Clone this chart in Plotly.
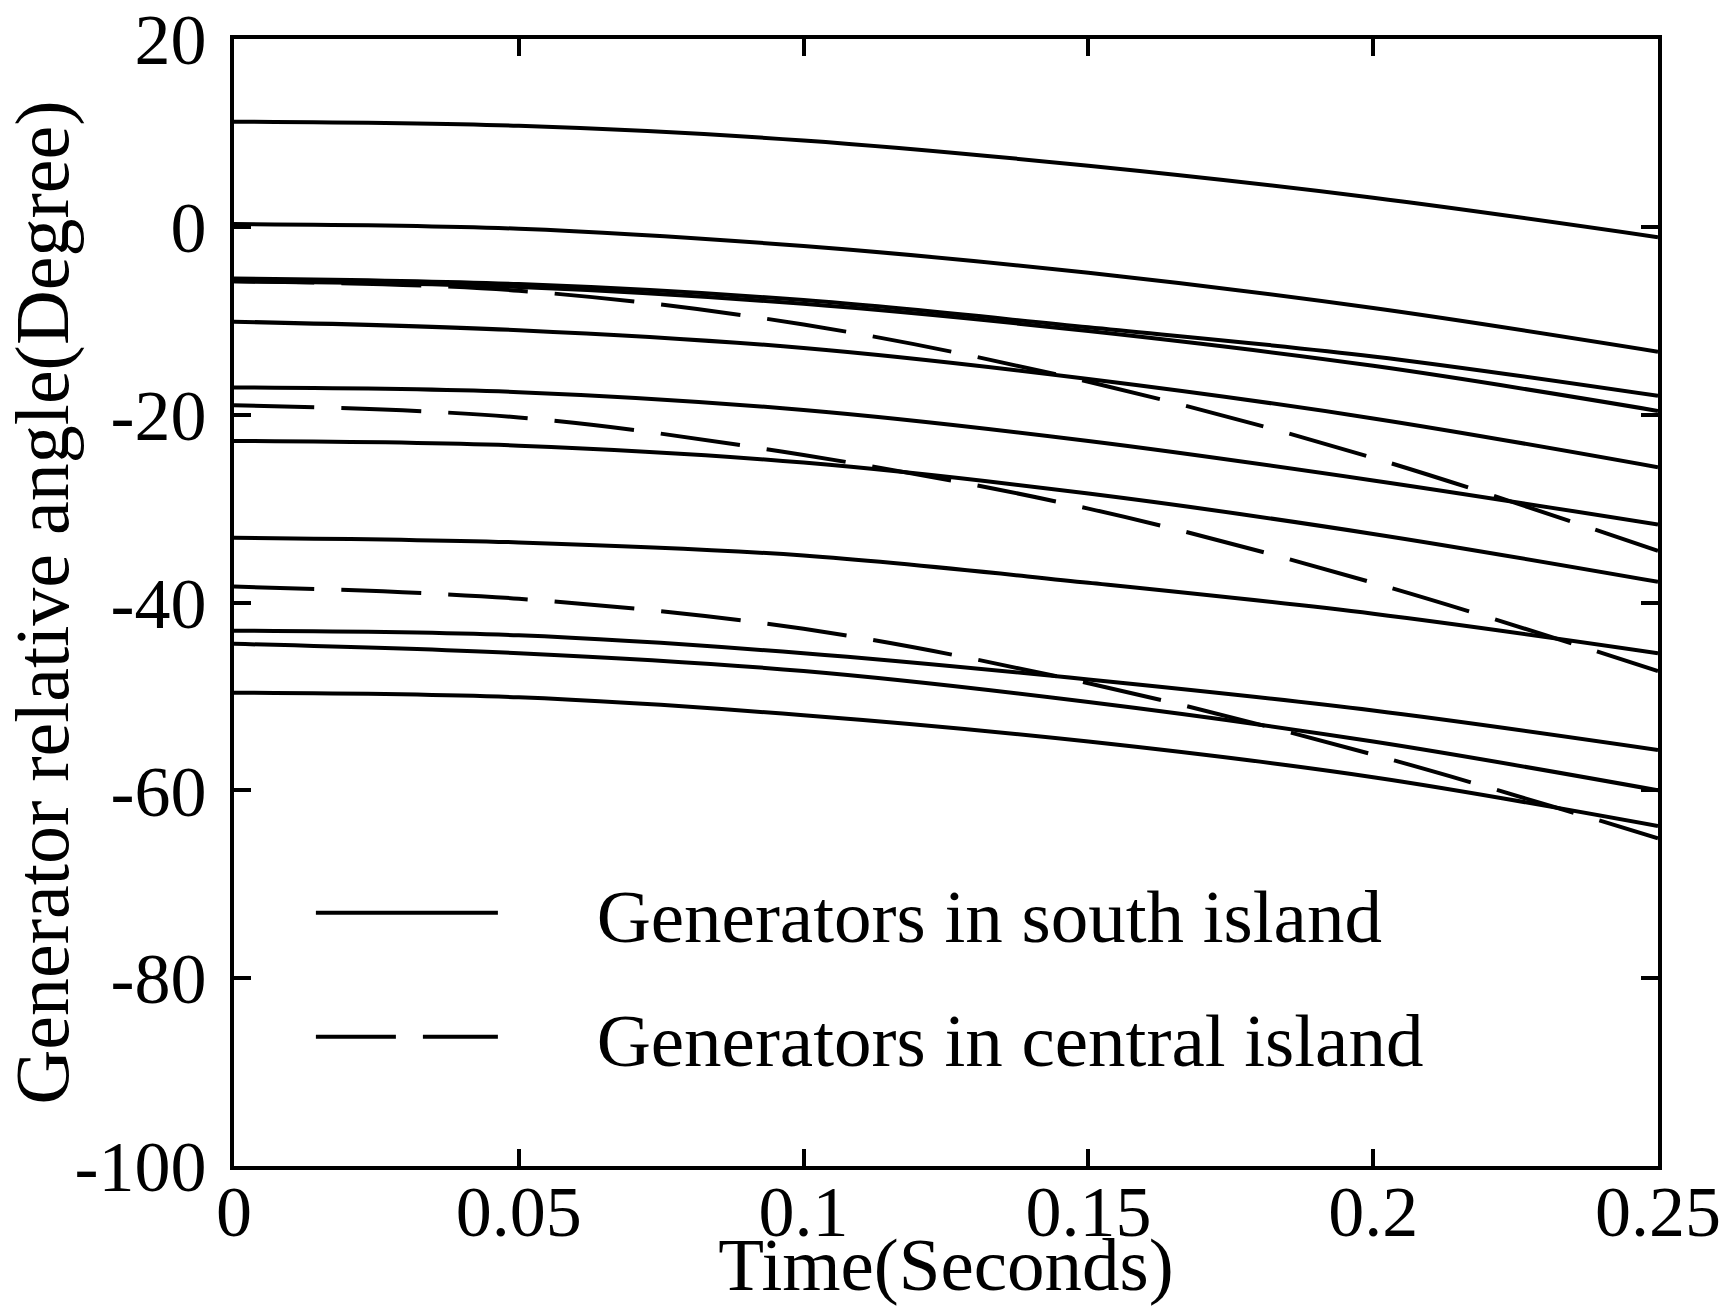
import plotly.graph_objects as go

# ---- data (time in s, angle in degrees) ----
time_s = [0, 0.05, 0.1, 0.15, 0.2, 0.25]

# generators in south island (solid)
south_g1 = [11.2, 10.75, 9.2, 6.5, 3.1, -1.1]
south_g2 = [0.3, -0.2, -2.05, -4.9, -8.65, -13.3]
south_g3 = [-5.5, -6.1, -7.8, -10.7, -13.8, -18.0]
south_g4 = [-5.8, -6.4, -8.2, -11.1, -14.8, -19.6]
south_g5 = [-10.1, -11.0, -12.9, -16.2, -20.4, -25.6]
south_g6 = [-17.1, -17.6, -19.5, -22.8, -27.0, -31.7]
south_g7 = [-22.8, -23.3, -25.1, -28.4, -32.7, -37.8]
south_g8 = [-33.1, -33.6, -35.0, -37.9, -41.2, -45.4]
south_g9 = [-43.0, -43.5, -45.4, -48.2, -51.5, -55.7]
south_g10 = [-44.4, -45.4, -47.3, -50.6, -54.8, -60.0]
south_g11 = [-49.6, -50.1, -52.0, -54.8, -58.6, -63.8]

# generators in central island (dashed)
central_g1 = [-5.8, -6.8, -10.4, -16.5, -24.6, -34.5]
central_g2 = [-19.0, -20.3, -24.3, -30.0, -37.9, -47.3]
central_g3 = [-38.3, -39.6, -42.8, -48.6, -56.2, -65.1]

x_ticks = [0, 0.05, 0.1, 0.15, 0.2, 0.25]
x_tick_labels = ["0", "0.05", "0.1", "0.15", "0.2", "0.25"]
y_ticks = [20, 0, -20, -40, -60, -80, -100]
y_tick_labels = ["20", "0", "-20", "-40", "-60", "-80", "-100"]

south_label = "Generators in south island"
central_label = "Generators in central island"

south_series = [south_g1, south_g2, south_g3, south_g4, south_g5, south_g6,
                south_g7, south_g8, south_g9, south_g10, south_g11]
central_series = [central_g1, central_g2, central_g3]

FONT = "Liberation Serif, Times New Roman, serif"
LW = 4
DASH = "80px,27px"
PAD = "\u00a0" * 5

fig = go.Figure()
for i, ys in enumerate(south_series):
    fig.add_trace(go.Scatter(
        x=time_s, y=ys, mode="lines", name=PAD + south_label,
        line=dict(color="black", width=LW, shape="spline", smoothing=1.0),
        showlegend=(i == 0), legend="legend", hoverinfo="skip"))
for i, ys in enumerate(central_series):
    fig.add_trace(go.Scatter(
        x=time_s, y=ys, mode="lines", name=PAD + central_label,
        line=dict(color="black", width=LW, dash=DASH, shape="spline", smoothing=1.0),
        showlegend=(i == 0), legend="legend2", hoverinfo="skip"))

axis_common = dict(
    showgrid=False, zeroline=False, showline=True, linecolor="black",
    linewidth=4, mirror="ticks", ticks="inside", ticklen=17, tickwidth=4,
    tickcolor="black", tickfont=dict(family=FONT, size=72, color="black"),
    automargin=False,
)

fig.update_layout(
    width=1725, height=1306,
    margin=dict(l=234, r=67, t=39, b=140, pad=0),
    paper_bgcolor="white", plot_bgcolor="white",
    font=dict(family=FONT, color="black"),
    xaxis=dict(range=[0, 0.25], tickvals=x_ticks, ticktext=x_tick_labels,
               ticklabelstandoff=-20,
               title=dict(text="Time(Seconds)", font=dict(family=FONT, size=75),
                          standoff=8),
               **axis_common),
    yaxis=dict(range=[-100, 20], tickvals=y_ticks, ticktext=y_tick_labels,
               ticklabelstandoff=9,
               title=dict(text="Generator relative angle(Degree)",
                          font=dict(family=FONT, size=76), standoff=8),
               **axis_common),
    legend=dict(x=0.054, y=0.2244, xanchor="left", yanchor="middle",
                bgcolor="rgba(0,0,0,0)", borderwidth=0, itemwidth=182,
                font=dict(family=FONT, size=75, color="black")),
    legend2=dict(x=0.054, y=0.1144, xanchor="left", yanchor="middle",
                 bgcolor="rgba(0,0,0,0)", borderwidth=0, itemwidth=182,
                 font=dict(family=FONT, size=75, color="black")),
)

fig.write_html("out.html")
